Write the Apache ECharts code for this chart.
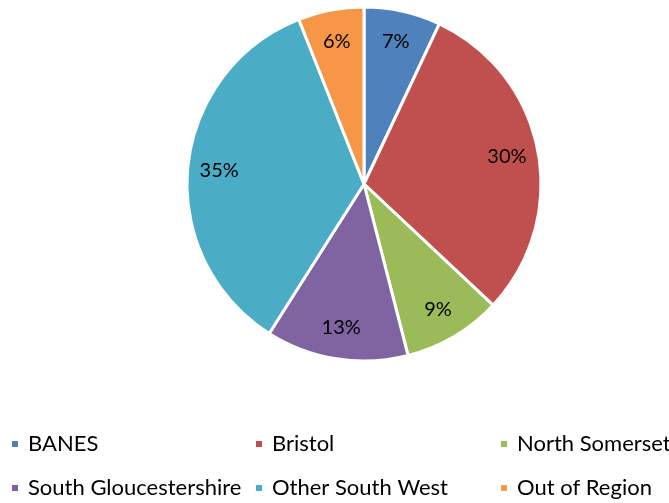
<!DOCTYPE html>
<html lang="en">
<head>
    <meta charset="UTF-8">
    <title>Pie</title>
    <script src="https://cdn.jsdelivr.net/npm/echarts@6/dist/echarts.min.js"></script>
    <style>
        body { margin: 0; background: #fff; }
    </style>
</head>
<body>
    <div id="main" style="width: 669px;height:503px;"></div>
    <script type="text/javascript">
        // data
        var categories = ['BANES', 'Bristol', 'North Somerset', 'South Gloucestershire', 'Other South West', 'Out of Region'];
        var shares = [7, 30, 9, 13, 35, 6];
        var colors = ['#4F81BD', '#C0504D', '#9BBB59', '#8064A2', '#4BACC6', '#F79646'];

        var font = 'Lato, "Open Sans", sans-serif';

        var pieData = categories.map(function (name, i) {
            return { name: name, value: shares[i], itemStyle: { color: colors[i] } };
        });

        // one legend per entry so the three columns line up like the original
        var colLeft = [10, 254, 499];
        var rowTop = [433, 477];
        var legends = categories.map(function (name, i) {
            return {
                left: colLeft[i % 3],
                top: rowTop[Math.floor(i / 3)],
                data: [name],
                icon: 'rect',
                itemWidth: 8,
                itemHeight: 8,
                selectedMode: false,
                padding: 0,
                textStyle: {
                    fontFamily: font,
                    fontSize: 22,
                    color: '#000',
                    padding: [0, 0, 0, 4]
                }
            };
        });

        var myChart = echarts.init(document.getElementById('main'));
        myChart.setOption({
            animation: false,
            color: colors,
            legend: legends,
            series: [{
                type: 'pie',
                center: [364, 184],
                radius: [0, 177],
                startAngle: 90,
                clockwise: true,
                data: pieData,
                label: { show: false },
                labelLine: { show: false },
                itemStyle: { borderColor: '#fff', borderWidth: 3 },
                emphasis: { disabled: true }
            }, {
                // transparent ring only used to place the labels further out
                type: 'pie',
                center: [364, 184],
                radius: [108, 177],
                startAngle: 90,
                clockwise: true,
                silent: true,
                data: pieData.map(function (d) {
                    return { name: d.name, value: d.value, itemStyle: { color: 'rgba(0,0,0,0)' } };
                }),
                label: {
                    show: true,
                    position: 'inside',
                    formatter: '{c}%',
                    fontFamily: font,
                    fontSize: 20,
                    color: '#000'
                },
                labelLine: { show: false },
                emphasis: { disabled: true }
            }]
        });
    </script>
</body>
</html>
